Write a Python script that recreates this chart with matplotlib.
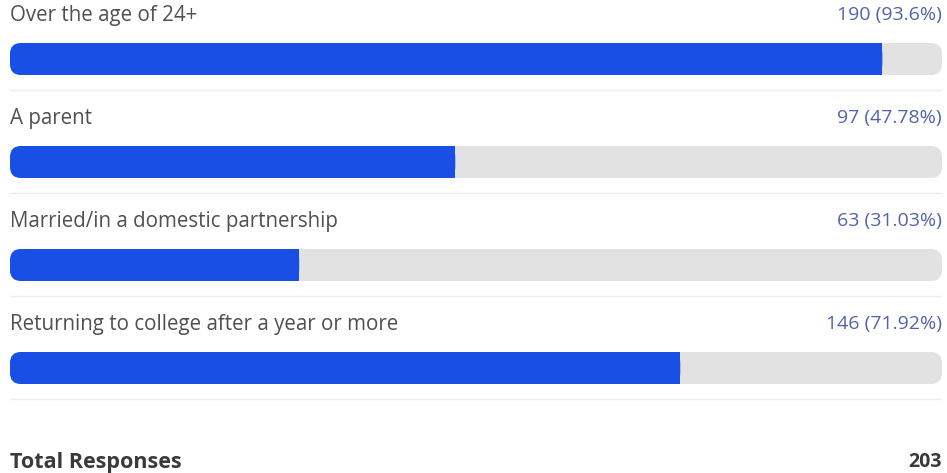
import matplotlib.pyplot as plt
from matplotlib.patches import FancyBboxPatch, Rectangle

labels = ["Over the age of 24+", "A parent",
          "Married/in a domestic partnership",
          "Returning to college after a year or more"]
counts = [190, 97, 63, 146]
percents = [93.6, 47.78, 31.03, 71.92]
value_texts = ["190 (93.6%)", "97 (47.78%)", "63 (31.03%)", "146 (71.92%)"]
total_label = "Total Responses"
total = 203

BLUE = "#1a4fe6"
TRACK = "#e2e2e2"
TEXT = "#505050"
VALUE = "#5264a8"

W, H = 947, 473
left_px, right_px = 10, 942
px_per_pct = (right_px - left_px) / 100.0

fig = plt.figure(figsize=(W / 100, H / 100), dpi=100)
plt.rcParams['font.family'] = ['Open Sans', 'DejaVu Sans']
ax = fig.add_axes([left_px / W, 0, (right_px - left_px) / W, 1])
ax.set_xlim(0, 100)
ax.set_ylim(H, 0)
ax.axis("off")

bar_h = 32
row_gap = 103
radius_px = 11
r = radius_px / px_per_pct

for i, (lab, pct, vt) in enumerate(zip(labels, percents, value_texts)):
    yc = 59 + i * row_gap
    y0 = yc - bar_h / 2
    ax.text(0, yc - 44, lab, fontsize=14.8, color=TEXT, va="center", ha="left")
    ax.text(100, yc - 44, vt, fontsize=14, color=VALUE, va="center", ha="right")
    track = FancyBboxPatch((0, y0), 100, bar_h,
                           boxstyle=f"round,pad=0,rounding_size={r}",
                           mutation_aspect=px_per_pct,
                           facecolor=TRACK, edgecolor="none")
    ax.add_patch(track)
    bar = FancyBboxPatch((0, y0), pct, bar_h,
                         boxstyle=f"round,pad=0,rounding_size={r}",
                         mutation_aspect=px_per_pct,
                         facecolor=BLUE, edgecolor="none")
    ax.add_patch(bar)
    # square off the right end of the filled part
    ax.add_patch(Rectangle((pct - 2 * r, y0), 2 * r, bar_h,
                           facecolor=BLUE, edgecolor="none"))
    ax.plot([0, 100], [yc + 31, yc + 31], color="#ececec", lw=1)

ax.text(0, 462, total_label, fontsize=15.5, fontweight="bold", color="#3a3a3a",
        va="center", ha="left")
ax.text(100, 462, str(total), fontsize=14, fontweight="bold", color="#3a3a3a",
        va="center", ha="right")

fig.savefig("out.png", dpi=100)
